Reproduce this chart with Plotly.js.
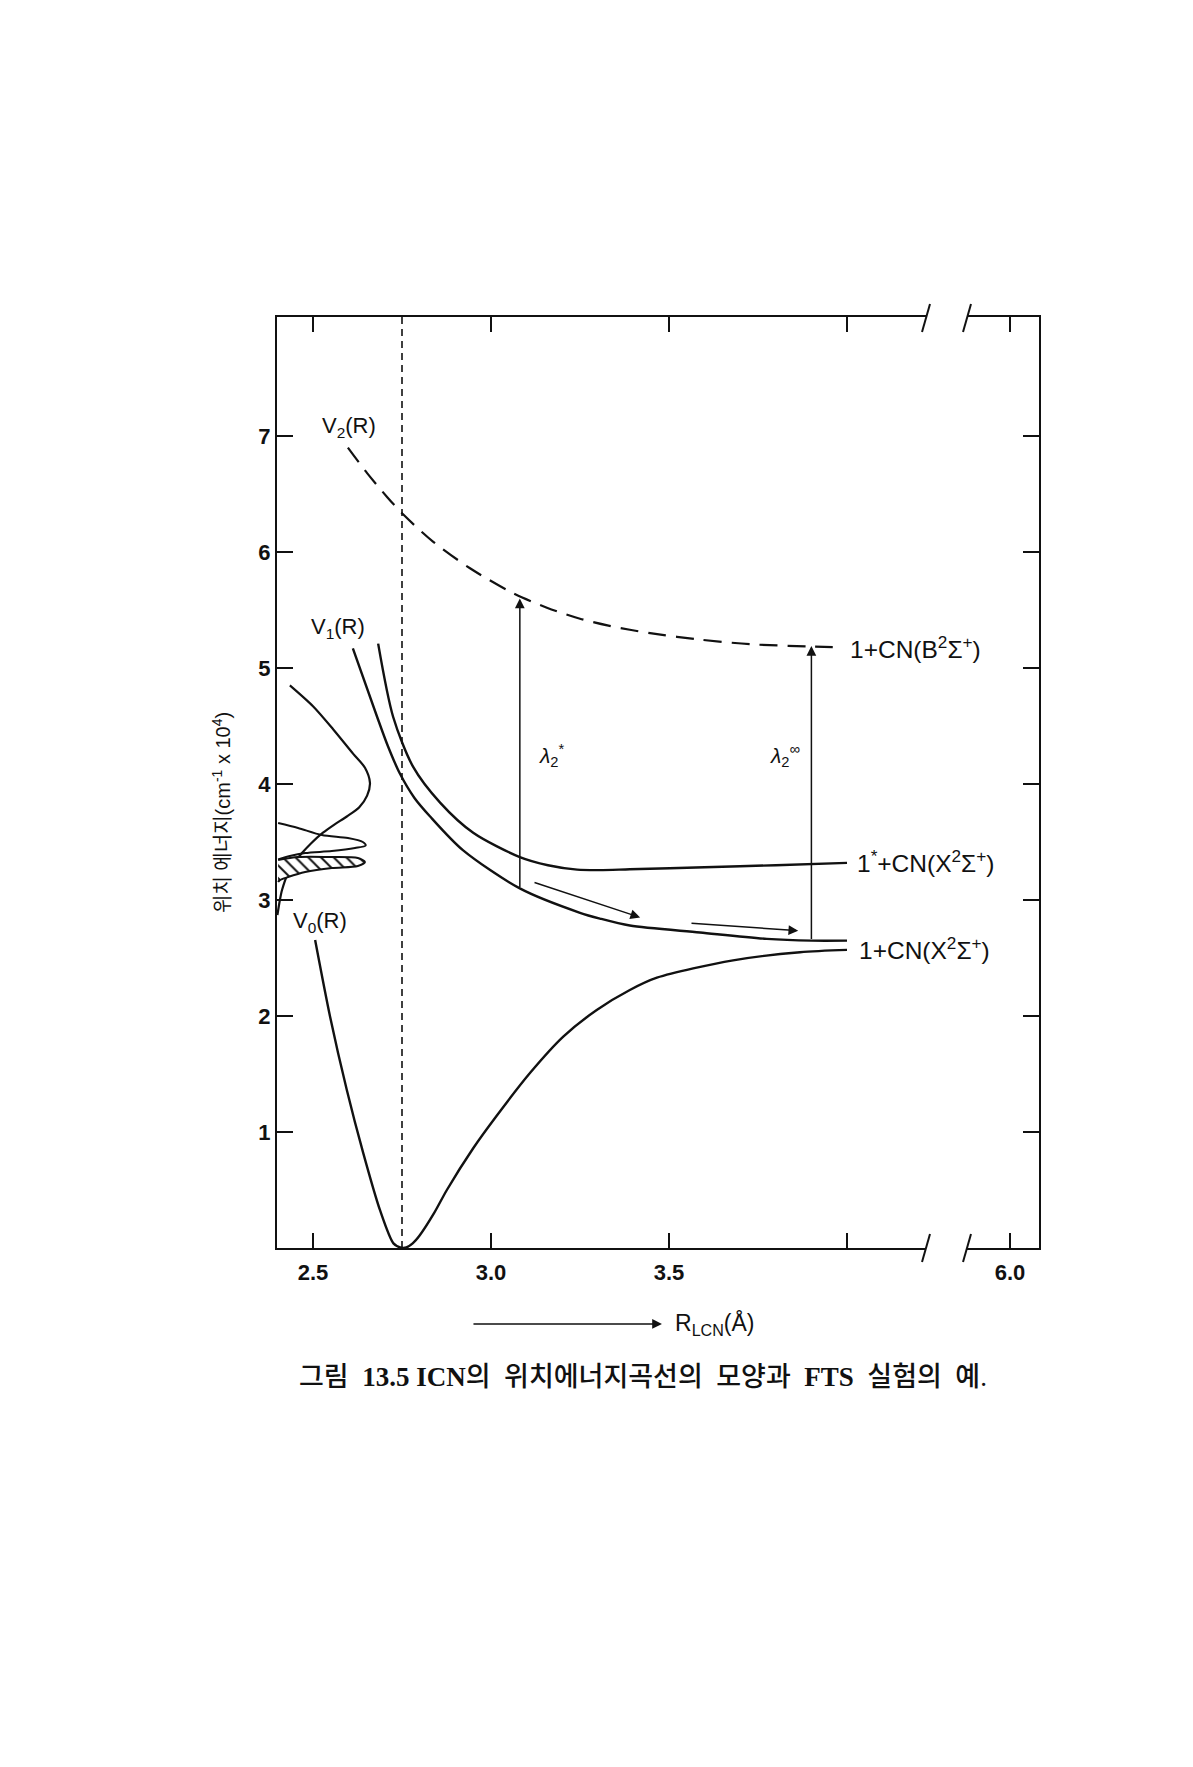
<!DOCTYPE html>
<html><head><meta charset="utf-8">
<script src="https://cdn.plot.ly/plotly-3.0.1.min.js"></script>
<style>html,body{margin:0;padding:0;background:#fff;}#chart{width:1193px;height:1767px;}</style>
</head><body><div id="chart"></div>
<script>
// ---------- data (R in Å, energy in 10^4 cm^-1) ----------
const v0R = [2.506, 2.548, 2.595, 2.641, 2.688, 2.726, 2.745, 2.762, 2.780, 2.800, 2.840, 2.876, 2.950, 3.016, 3.110, 3.203, 3.297, 3.390, 3.466, 3.680, 3.868, 4.000];
const v0E = [2.655, 1.994, 1.362, 0.820, 0.328, 0.040, 0.005, 0.005, 0.040, 0.110, 0.300, 0.500, 0.860, 1.140, 1.510, 1.822, 2.052, 2.224, 2.330, 2.480, 2.550, 2.570];

const v1aR = [2.612, 2.680, 2.710, 2.744, 2.785, 2.829, 2.921, 3.081, 3.250, 3.306, 3.390, 3.587, 3.775, 3.900, 4.000];
const v1aE = [5.170, 4.580, 4.330, 4.090, 3.880, 3.720, 3.430, 3.100, 2.890, 2.840, 2.780, 2.720, 2.665, 2.650, 2.650];

const v1bR = [2.683, 2.725, 2.781, 2.857, 2.950, 3.081, 3.160, 3.242, 3.306, 3.390, 3.600, 3.800, 4.000];
const v1bE = [5.210, 4.580, 4.150, 3.840, 3.580, 3.370, 3.300, 3.262, 3.258, 3.265, 3.282, 3.300, 3.320];

const v2R = [2.598, 2.652, 2.708, 2.753, 2.837, 2.941, 3.062, 3.157, 3.250, 3.330, 3.390, 3.447, 3.587, 3.728, 3.900, 3.960];
const v2E = [6.900, 6.680, 6.475, 6.325, 6.090, 5.860, 5.645, 5.520, 5.425, 5.365, 5.330, 5.300, 5.245, 5.205, 5.185, 5.180];

// broad absorption profile (sideways)
const bumpR = [2.435, 2.500, 2.557, 2.613, 2.646, 2.660, 2.652, 2.630, 2.595, 2.560, 2.528, 2.495, 2.469, 2.445, 2.430, 2.413, 2.407, 2.400];
const bumpE = [4.850, 4.670, 4.470, 4.260, 4.140, 4.010, 3.900, 3.800, 3.720, 3.650, 3.580, 3.490, 3.405, 3.310, 3.233, 3.086, 3.000, 2.870];

// narrow upper peak
const peakR = [2.402, 2.458, 2.525, 2.598, 2.640, 2.648, 2.618, 2.553, 2.478, 2.435, 2.402];
const peakE = [3.664, 3.621, 3.560, 3.534, 3.500, 3.470, 3.448, 3.422, 3.405, 3.380, 3.350];

// hatched lower peak
const hatchR = [2.402, 2.458, 2.553, 2.626, 2.646, 2.626, 2.553, 2.478, 2.430, 2.407, 2.402];
const hatchE = [3.345, 3.371, 3.371, 3.362, 3.328, 3.293, 3.276, 3.241, 3.198, 3.172, 3.155];

// equilibrium distance
const rEq = 2.75;

// arrows: tail (x0,y0) -> head (x1,y1)
const arrowX0 = [3.081, 3.900, 3.118, 3.559];
const arrowY0 = [3.100, 2.650, 3.155, 2.800];
const arrowX1 = [3.081, 3.900, 3.419, 3.863];
const arrowY1 = [5.600, 5.190, 2.850, 2.735];

// axis ticks
const xTickVals = [2.5, 3.0, 3.5, 4.0];
const xTickText = ['2.5', '3.0', '3.5', ''];
const x2TickVals = [6.0];
const x2TickText = ['6.0'];
const yTickVals = [1, 2, 3, 4, 5, 6, 7];
const yTickText = ['1', '2', '3', '4', '5', '6', '7'];

// ---------- drawing ----------
const INK = '#111';
const sans = 'Liberation Sans, Arial, Noto Sans CJK KR, sans-serif';
const yMax = 8.026;
const LW = 2.4;

const traces = [
  {x: [rEq, rEq], y: [0, yMax], mode: 'lines', line: {color: INK, width: 1.6, dash: '7px,5px'}},
  {x: v2R, y: v2E, mode: 'lines', line: {color: INK, width: 2.2, dash: '18px,10px', shape: 'spline', smoothing: 0.8}},
  {x: v1aR, y: v1aE, mode: 'lines', line: {color: INK, width: LW, shape: 'spline', smoothing: 0.8}},
  {x: v1bR, y: v1bE, mode: 'lines', line: {color: INK, width: LW, shape: 'spline', smoothing: 0.8}},
  {x: v0R, y: v0E, mode: 'lines', line: {color: INK, width: LW, shape: 'spline', smoothing: 0.8}},
  {x: bumpR, y: bumpE, mode: 'lines', line: {color: INK, width: 2.2, shape: 'spline', smoothing: 0.8}},
  {x: peakR, y: peakE, mode: 'lines', line: {color: INK, width: 2, shape: 'spline', smoothing: 0.8}},
  {x: hatchR, y: hatchE, mode: 'lines', fill: 'toself', fillcolor: 'rgba(0,0,0,0)',
   fillpattern: {shape: '\\', fgcolor: INK, bgcolor: '#fff', size: 9, solidity: 0.22},
   line: {color: INK, width: 2, shape: 'spline', smoothing: 0.8}},
  // invisible trace on x2 so the broken-axis segment renders
  {x: [6.0], y: [0], xaxis: 'x2', yaxis: 'y2', mode: 'markers', marker: {opacity: 0}, hoverinfo: 'skip'}
];

const annotations = [];
for (let i = 0; i < arrowX0.length; i++) {
  annotations.push({x: arrowX1[i], y: arrowY1[i], ax: arrowX0[i], ay: arrowY0[i],
    xref: 'x', yref: 'y', axref: 'x', ayref: 'y', text: '', showarrow: true,
    arrowhead: 2, arrowsize: 1.3, arrowwidth: 1.5, arrowcolor: INK, standoff: 0, startstandoff: 0});
}
const lab = (text, x, y, anchor, size) => ({text, x, y, xref: 'x', yref: 'y', showarrow: false,
  xanchor: anchor, yanchor: 'middle', font: {family: sans, size: size, color: INK}});
annotations.push(lab('V<sub>2</sub>(R)', 2.601, 7.078, 'center', 22));
annotations.push(lab('V<sub>1</sub>(R)', 2.569, 5.345, 'center', 22));
annotations.push(lab('V<sub>0</sub>(R)', 2.520, 2.810, 'center', 22));
annotations.push(lab('1+CN(B<sup>2</sup>Σ<sup>+</sup>)', 4.003, 5.180, 'left', 24.5));
annotations.push(lab('1<sup>*</sup>+CN(X<sup>2</sup>Σ<sup>+</sup>)', 4.022, 3.328, 'left', 24.5));
annotations.push(lab('1+CN(X<sup>2</sup>Σ<sup>+</sup>)', 4.028, 2.586, 'left', 24.5));
annotations.push(lab('<i>λ</i><sub>2</sub><sup>*</sup>', 3.171, 4.250, 'center', 21));
annotations.push(lab('<i>λ</i><sub>2</sub><sup>∞</sup>', 3.826, 4.250, 'center', 21));

// axis title & caption (paper coords)
annotations.push({text: '위치 에너지(cm<sup>-1</sup> x 10<sup>4</sup>)', x: -0.0735, y: 0.4683,
  xref: 'paper', yref: 'paper', xanchor: 'center', yanchor: 'middle', textangle: -90, showarrow: false,
  font: {family: sans, size: 20, color: INK}});
annotations.push({text: '', x: 0.5052, y: -0.0816, ax: -190, ay: 0, xref: 'paper', yref: 'paper',
  axref: 'pixel', ayref: 'pixel', showarrow: true, arrowhead: 2, arrowsize: 1.3, arrowwidth: 1.5,
  arrowcolor: INK, standoff: 0});
annotations.push({text: 'R<sub>LCN</sub>(Å)', x: 0.5197, y: -0.0816, xref: 'paper', yref: 'paper',
  xanchor: 'left', yanchor: 'middle', showarrow: false, font: {family: sans, size: 23, color: INK}});
annotations.push({text: '그림  <b>13.5 ICN</b>의  위치에너지곡선의  모양과  <b>FTS</b>  실험의  예.', x: 0.4803, y: -0.1386,
  xref: 'paper', yref: 'paper', xanchor: 'center', yanchor: 'middle', showarrow: false,
  font: {family: 'Liberation Serif, Noto Sans CJK KR, serif', size: 27, color: INK, weight: 500}});

// axis break slashes
const W = 762, H = 931, L = 277, T = 317;
const px2x = p => (p - L) / W, py2y = p => (T + H - p) / H;
const shapes = [];
[926, 967].forEach(bx => {
  [318, 1248].forEach(by => {
    shapes.push({type: 'line', xref: 'paper', yref: 'paper',
      x0: px2x(bx + 4), y0: py2y(by - 14), x1: px2x(bx - 4), y1: py2y(by + 14),
      line: {color: INK, width: 2}});
  });
});

const tickFont = {family: sans, size: 22, color: INK, weight: 700};
const axCommon = {showline: true, linewidth: 2, linecolor: INK, mirror: 'allticks', ticks: 'inside',
  ticklen: 15, tickwidth: 1.6, tickcolor: INK, showgrid: false, zeroline: false,
  tickfont: tickFont, fixedrange: true};

const layout = {
  width: 1193, height: 1767,
  margin: {l: L, r: 1193 - L - W, t: T, b: 1767 - T - H},
  paper_bgcolor: '#fff', plot_bgcolor: '#fff',
  showlegend: false,
  xaxis: Object.assign({}, axCommon, {domain: [0, px2x(926)], range: [2.39888, 4.22191],
    tickmode: 'array', tickvals: xTickVals, ticktext: xTickText, anchor: 'y', ticklabelstandoff: 4}),
  xaxis2: Object.assign({}, axCommon, {domain: [px2x(967), 1], range: [5.8792, 6.0815],
    tickmode: 'array', tickvals: x2TickVals, ticktext: x2TickText, anchor: 'y', ticklabelstandoff: 4}),
  yaxis: Object.assign({}, axCommon, {mirror: false, range: [0, yMax], tickmode: 'array',
    tickvals: yTickVals, ticktext: yTickText, ticklen: 16, anchor: 'x'}),
  yaxis2: Object.assign({}, axCommon, {mirror: false, range: [0, yMax], tickmode: 'array',
    tickvals: yTickVals, ticktext: yTickText, ticklen: 16, anchor: 'x2', overlaying: 'y',
    side: 'right', showticklabels: false}),
  annotations, shapes
};

Plotly.newPlot('chart', traces, layout, {displayModeBar: false, staticPlot: true});
</script>
</body></html>
